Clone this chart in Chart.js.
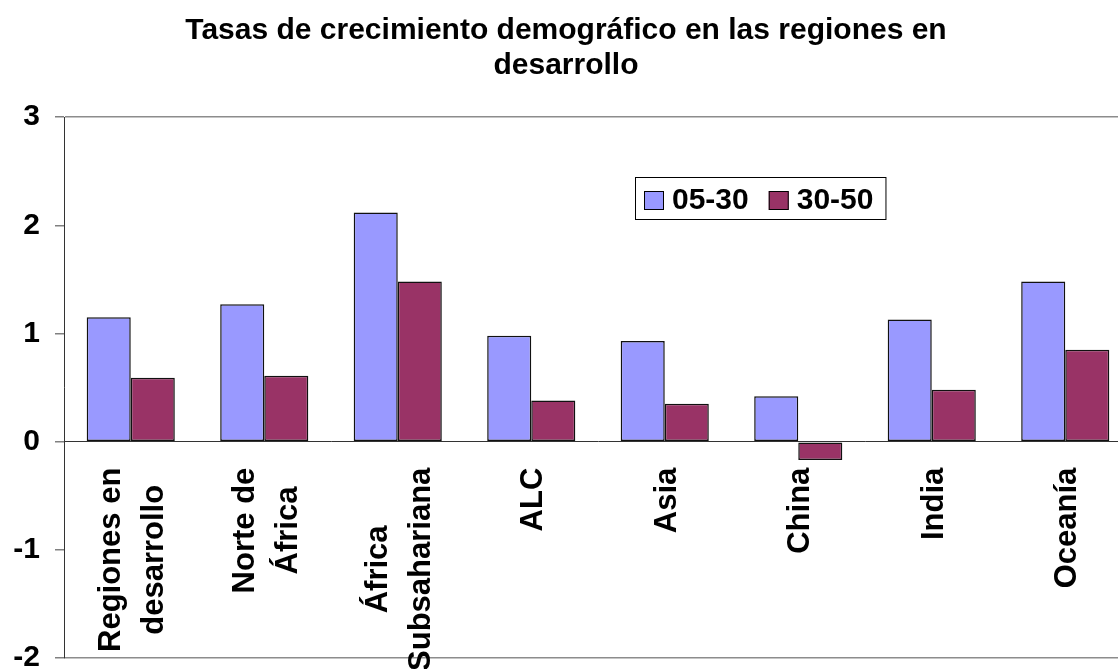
<!DOCTYPE html>
<html lang="es">
<head>
<meta charset="UTF-8">
<title>Tasas de crecimiento demográfico en las regiones en desarrollo</title>
<script src="https://cdn.jsdelivr.net/npm/chart.js"></script>
<style>
    html, body {
        margin: 0;
        padding: 0;
        background: #fff;
        overflow: hidden;
    }

    /* plot runs a little past the window edges, like the original crop */
    .chart-box {
        position: relative;
        width: 1132px;
        height: 685px;
    }
</style>
</head>
<body>
<div class="chart-box"><canvas id="growthChart"></canvas></div>

<script>
    const regions = [['Regiones en', 'desarrollo'], ['Norte de', 'África'], ['África', 'Subsahariana'],
        'ALC', 'Asia', 'China', 'India', 'Oceanía'];
    const seriesNames = ['05-30', '30-50'];
    const rate0530 = [1.15, 1.27, 2.12, 0.98, 0.93, 0.42, 1.13, 1.48];
    const rate3050 = [0.59, 0.61, 1.48, 0.38, 0.35, -0.17, 0.48, 0.85];
    const yMin = -2;
    const yMax = 3;

    const FONT = '"Liberation Sans", Arial, sans-serif';

    // category names sit under the zero line, rotated, lines centred
    const categoryLabels = {
        id: 'categoryLabels',
        afterDatasetsDraw(chart) {
            const { ctx, scales: { x, y } } = chart;
            const top = y.getPixelForValue(0) + 26;
            ctx.save();
            ctx.font = 'bold 31px ' + FONT;
            ctx.fillStyle = '#000';
            ctx.textAlign = 'center';
            ctx.textBaseline = 'alphabetic';
            regions.forEach((label, i) => {
                const lines = Array.isArray(label) ? label : [label];
                const maxW = Math.max(...lines.map(l => ctx.measureText(l).width));
                ctx.save();
                ctx.translate(x.getPixelForValue(i), top);
                ctx.rotate(-Math.PI / 2);
                lines.forEach((line, k) => {
                    const v = (k - (lines.length - 1) / 2) * 43 + 11;
                    ctx.fillText(line, -maxW / 2, v);
                });
                ctx.restore();
            });
            ctx.restore();
        }
    };

    // boxed legend inside the plot
    const boxLegend = {
        id: 'boxLegend',
        afterDraw(chart) {
            const { ctx } = chart;
            const left = 635, top = 177, h = 42;
            ctx.save();
            ctx.font = 'bold 30px ' + FONT;
            ctx.textBaseline = 'alphabetic';
            ctx.textAlign = 'left';
            let x = left + 9;
            chart.data.datasets.forEach(ds => {
                ctx.fillStyle = ds.backgroundColor;
                ctx.fillRect(x, top + 14, 20, 19);
                ctx.strokeStyle = '#000';
                ctx.lineWidth = 1;
                ctx.strokeRect(x + 0.5, top + 14.5, 19, 18);
                ctx.fillStyle = '#000';
                ctx.fillText(ds.label, x + 28, top + 32);
                x += 28 + ctx.measureText(ds.label).width + 20;
            });
            const right = x - 20 + 12;
            ctx.strokeStyle = '#000';
            ctx.strokeRect(left + 0.5, top + 0.5, right - left, h);
            ctx.restore();
        }
    };

    const ctx = document.getElementById('growthChart').getContext('2d');
    const growthChart = new Chart(ctx, {
        type: 'bar',
        data: {
            labels: regions,
            datasets: [{
                label: seriesNames[0],
                data: rate0530,
                backgroundColor: '#9999FF',
                borderColor: '#111',
                borderWidth: 1.5,
                borderSkipped: false
            }, {
                label: seriesNames[1],
                data: rate3050,
                backgroundColor: '#993366',
                borderColor: '#111',
                borderWidth: 1.5,
                borderSkipped: false
            }]
        },
        options: {
            responsive: true,
            maintainAspectRatio: false,
            animation: false,
            layout: { padding: 0 },
            datasets: {
                bar: { categoryPercentage: 0.66, barPercentage: 1 }
            },
            scales: {
                x: {
                    type: 'category',
                    position: { y: 0 },
                    grid: { display: false },
                    ticks: { display: false },
                    border: { display: true, color: '#333', width: 1 }
                },
                y: {
                    min: yMin,
                    max: yMax,
                    afterFit(scale) { scale.width = 64; },
                    ticks: {
                        stepSize: 1,
                        padding: 15,
                        color: '#000',
                        font: { family: FONT, size: 30, weight: 'bold', lineHeight: 0.8 }
                    },
                    grid: {
                        color: c => (c.tick && (c.tick.value === yMax || c.tick.value === yMin)) ? '#8c8c8c' : 'rgba(0,0,0,0)',
                        lineWidth: 1.5,
                        tickColor: '#808080',
                        tickLength: 9
                    },
                    border: { display: true, color: '#333', width: 1 }
                }
            },
            plugins: {
                legend: { display: false },
                tooltip: { enabled: false },
                title: {
                    display: true,
                    text: ['Tasas de crecimiento demográfico en las regiones en', 'desarrollo'],
                    color: '#000',
                    font: { family: FONT, size: 30, weight: 'bold', lineHeight: 1.17 },
                    padding: { top: 13, bottom: 34 }
                }
            }
        },
        plugins: [categoryLabels, boxLegend]
    });
</script>
</body>
</html>
